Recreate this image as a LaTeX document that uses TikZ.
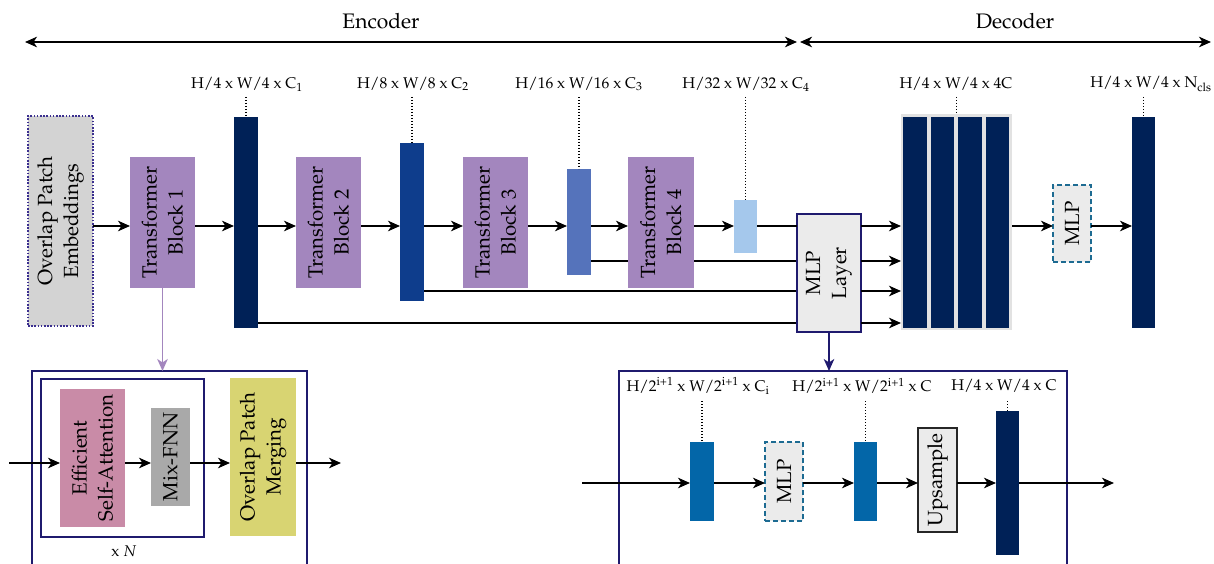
\documentclass[tikz,border=0pt]{standalone}
\usepackage[T1]{fontenc}
\usepackage{mathpazo}
\usetikzlibrary{arrows.meta}
\definecolor{navy}{HTML}{002157}
\definecolor{blueB}{HTML}{0E3D8C}
\definecolor{blueC}{HTML}{5573BB}
\definecolor{blueD}{HTML}{A5C8EC}
\definecolor{blueM}{HTML}{0366A8}
\definecolor{tpurp}{HTML}{A386BE}
\definecolor{frm}{HTML}{1F1A6E}
\definecolor{tealc}{HTML}{1D6B92}
\definecolor{lgray}{HTML}{EBEBEB}
\definecolor{pgray}{HTML}{D3D3D3}
\definecolor{pinkc}{HTML}{C98BA7}
\definecolor{mgray}{HTML}{A9A9A9}
\definecolor{yell}{HTML}{D8D472}
\definecolor{dotc}{HTML}{3B2F8F}
\definecolor{bgc}{HTML}{E2E2E2}
\pgfdeclarelayer{bg}
\pgfsetlayers{bg,main}
\begin{document}
\begin{tikzpicture}[x=1pt,y=-1pt,
  blk/.style 2 args={inner sep=0pt,outer sep=0pt,minimum width=#1pt,minimum height=#2pt},
  rlab/.style={label={[rotate=90,align=center,font=\fontsize{20.5}{26}\selectfont]center:#1}},
  arr/.style={line width=1.9pt,-{Stealth[length=12pt,width=10.5pt,inset=3.5pt]}},
  darr/.style={line width=1.9pt,{Stealth[length=12pt,width=10.5pt,inset=3.5pt]}-{Stealth[length=12pt,width=10.5pt,inset=3.5pt]}},
  ln/.style={line width=1.9pt},
  dots/.style={line width=1.7pt,dash pattern=on 1.4pt off 1.6pt},
  dimlab/.style={font=\fontsize{15.5}{18}\selectfont, inner sep=0pt},
  head/.style={font=\fontsize{21}{24}\selectfont, inner sep=0pt},
]
\useasboundingbox (0,0) rectangle (1214,564);

% ---------- top headers ----------
\node[head] (enc) at (381,21) {Encoder};
\node[head] (dec) at (1015,21) {Decoder};
\coordinate (eL) at (25,42);
\coordinate (eR) at (797,42);
\coordinate (dL) at (800,42);
\coordinate (dR) at (1211,42);
\draw[darr] (eL) -- (eR);
\draw[darr] (dL) -- (dR);

% ---------- encoder blocks ----------
\node[blk={65}{210}, fill=pgray, draw=dotc, line width=1.7pt, dash pattern=on 1.6pt off 1.6pt, rlab={Overlap Patch\\Embeddings}] (ope) at (60.5,221) {};
\node[blk={65}{131}, fill=tpurp, rlab={Transformer\\Block 1}] (tb1) at (162.5,222.5) {};
\node[blk={24}{211}, fill=navy] (b1) at (246,222.5) {};
\node[blk={65}{131}, fill=tpurp, rlab={Transformer\\Block 2}] (tb2) at (328.5,222.5) {};
\node[blk={24}{158}, fill=blueB] (b2) at (412,222) {};
\node[blk={65}{131}, fill=tpurp, rlab={Transformer\\Block 3}] (tb3) at (495.5,222.5) {};
\node[blk={24}{106}, fill=blueC] (b3) at (579,222) {};
\node[blk={66}{131}, fill=tpurp, rlab={Transformer\\Block 4}] (tb4) at (661,222.5) {};
\node[blk={23}{53}, fill=blueD] (b4) at (745.5,226.5) {};
\node[blk={64}{118}, fill=lgray, draw=frm, line width=1.9pt, rlab={MLP\\Layer}] (mlp) at (829,273) {};

% ---------- decoder blocks ----------
\node[blk={111}{215}, fill=bgc] (c4) at (956.5,222) {};
\node[blk={23.5}{211}, fill=navy] (c4a) at (915,222.5) {};
\node[blk={23.5}{211}, fill=navy] (c4b) at (942.5,222.5) {};
\node[blk={23.5}{211}, fill=navy] (c4c) at (970,222.5) {};
\node[blk={23.5}{211}, fill=navy] (c4d) at (997.5,222.5) {};
\node[blk={38}{77}, fill=lgray, draw=tealc, line width=1.9pt, dash pattern=on 5pt off 3pt, rlab={MLP}] (mlps) at (1072,223.5) {};
\node[blk={23}{211}, fill=navy] (fb) at (1143.5,222.5) {};

% ---------- dimension labels ----------
\coordinate (t) at (0,97);
\node[dimlab] (l1) at (247,84) {H/4 x W/4 x C$_1$};
\node[dimlab] (l2) at (413,84) {H/8 x W/8 x C$_2$};
\node[dimlab] (l3) at (579,84) {H/16 x W/16 x C$_3$};
\node[dimlab] (l4) at (746,84) {H/32 x W/32 x C$_4$};
\node[dimlab] (l5) at (956,84) {H/4 x W/4 x 4C};
\node[dimlab] (l6) at (1151,84) {H/4 x W/4 x N$_{\mathrm{cls}}$};
\draw[dots] (b1.north |- t) -- (b1.north);
\draw[dots] (b2.north |- t) -- (b2.north);
\draw[dots] (b3.north |- t) -- (b3.north);
\draw[dots] (b4.north |- t) -- (b4.north);
\draw[dots] (c4.north |- t) -- (c4.north);
\draw[dots] (fb.north |- t) -- (fb.north);

% ---------- main connectors ----------
\coordinate (m) at (0,226);
\coordinate (m2) at (0,261);
\coordinate (m3) at (0,291);
\coordinate (m4) at (0,323);
\draw[arr] (ope.east |- m) -- (tb1.west |- m);
\draw[arr] (tb1.east |- m) -- (b1.west |- m);
\draw[arr] (b1.east |- m) -- (tb2.west |- m);
\draw[arr] (tb2.east |- m) -- (b2.west |- m);
\draw[arr] (b2.east |- m) -- (tb3.west |- m);
\draw[arr] (tb3.east |- m) -- (b3.west |- m);
\draw[arr] (b3.east |- m) -- (tb4.west |- m);
\draw[arr] (tb4.east |- m) -- (b4.west |- m);
\draw[ln] (b4.east |- m) -- (mlp.west |- m);
\begin{pgfonlayer}{bg}
\draw[ln] (b3.east |- m2) -- (mlp.west |- m2);
\draw[ln] (b2.east |- m3) -- (mlp.west |- m3);
\draw[ln] (b1.east |- m4) -- (mlp.west |- m4);
\end{pgfonlayer}
\draw[arr] (mlp.east |- m) -- (c4.west |- m);
\draw[arr] (mlp.east |- m2) -- (c4.west |- m2);
\draw[arr] (mlp.east |- m3) -- (c4.west |- m3);
\draw[arr] (mlp.east |- m4) -- (c4.west |- m4);
\draw[arr] (c4.east |- m) -- (mlps.west |- m);
\draw[arr] (mlps.east |- m) -- (fb.west |- m);

% ---------- lower left: transformer block detail ----------
\coordinate (olt) at (32,371);
\coordinate (ort) at (307,371);
\draw[frm, line width=1.9pt] (32,566) -- (olt) -- (ort) -- (307,566);
\draw[tpurp, line width=1.9pt, -{Stealth[length=12pt,width=10.5pt,inset=3.5pt]}] (tb1.south) -- (tb1.south |- olt);
\node[blk={163}{158}, draw=frm, line width=1.9pt] (inner) at (122.5,458) {};
\node[blk={65}{138}, fill=pinkc, rlab={Efficient\\Self-Attention}] (esa) at (92.5,458) {};
\node[blk={39}{98}, fill=mgray, rlab={Mix-FNN}] (mix) at (170.5,457) {};
\node[blk={66}{158}, fill=yell, rlab={Overlap Patch\\Merging}] (opm) at (263,457) {};
\node[dimlab] (xn) at (124,551) {x $N$};
\coordinate (ll) at (0,463);
\coordinate (inL) at (9,463);
\coordinate (outL) at (341,463);
\draw[arr] (inL) -- (esa.west |- ll);
\draw[arr] (esa.east |- ll) -- (mix.west |- ll);
\draw[arr] (mix.east |- ll) -- (opm.west |- ll);
\draw[arr] (opm.east |- ll) -- (outL);

% ---------- lower right: MLP layer detail ----------
\coordinate (rlt) at (619,371);
\coordinate (rrt) at (1067,371);
\draw[frm, line width=1.9pt] (619,566) -- (rlt) -- (rrt) -- (1067,566);
\draw[frm, line width=1.9pt, -{Stealth[length=12pt,width=10.5pt,inset=3.5pt]}] (mlp.south) -- (mlp.south |- rlt);
\node[blk={24}{79}, fill=blueM] (ba) at (702,481.5) {};
\node[blk={38}{79}, fill=lgray, draw=tealc, line width=1.9pt, dash pattern=on 5pt off 3pt, rlab={MLP}] (mlpb) at (784,481.5) {};
\node[blk={23}{79}, fill=blueM] (bb) at (865.5,481.5) {};
\node[blk={39}{104}, fill=lgray, draw=black!85, line width=1.9pt, rlab={Upsample}] (ups) at (937.5,480) {};
\node[blk={23}{144}, fill=navy] (bc) at (1007.5,483) {};
\node[dimlab] (la) at (698,386) {H/2\textsuperscript{i+1} x W/2\textsuperscript{i+1} x C$_{\mathrm{i}}$};
\node[dimlab] (lb) at (862,386) {H/2\textsuperscript{i+1} x W/2\textsuperscript{i+1} x C};
\node[dimlab] (lc) at (1004,386) {H/4 x W/4 x C};
\coordinate (t2) at (0,401);
\draw[dots] (ba.north |- t2) -- (ba.north);
\draw[dots] (bb.north |- t2) -- (bb.north);
\draw[dots] (bc.north |- t2) -- (bc.north);
\coordinate (rl) at (0,483);
\coordinate (rin) at (582,483);
\coordinate (rout) at (1114,483);
\draw[arr] (rin) -- (ba.west |- rl);
\draw[arr] (ba.east |- rl) -- (mlpb.west |- rl);
\draw[arr] (mlpb.east |- rl) -- (bb.west |- rl);
\draw[arr] (bb.east |- rl) -- (ups.west |- rl);
\draw[arr] (ups.east |- rl) -- (bc.west |- rl);
\draw[arr] (bc.east |- rl) -- (rout);
\end{tikzpicture}
\end{document}
